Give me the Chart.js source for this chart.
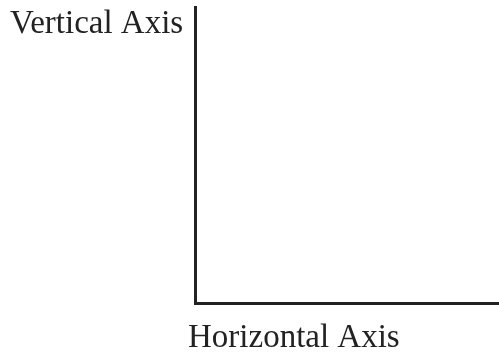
<!DOCTYPE html>
<html>
<head>
<meta charset="utf-8">
<script src="https://cdn.jsdelivr.net/npm/chart.js@4"></script>
<style>
html,body{margin:0;padding:0;background:#fff;}
#wrap{width:499px;height:358px;position:relative;}
</style>
</head>
<body>
<div id="wrap"><canvas id="c"></canvas></div>
<script>
const xAxisTitle = ["Horizontal Axis"];
const yAxisTitle = ["Vertical Axis"];
const xValues = [];
const yValues = [];

const labelPlugin = {
  id: 'axisLabels',
  afterDraw(chart) {
    const ctx = chart.ctx;
    ctx.save();
    ctx.fillStyle = '#222';
    ctx.font = '33px "Liberation Serif"';
    ctx.textBaseline = 'alphabetic';
    ctx.textAlign = 'left';
    ctx.fillText(yAxisTitle[0], 10, 33);
    ctx.fillText(xAxisTitle[0], 188, 347);
    ctx.restore();
  }
};

new Chart(document.getElementById('c'), {
  type: 'scatter',
  data: { datasets: [{ data: xValues.map((x, i) => ({x, y: yValues[i]})) }] },
  options: {
    responsive: true,
    maintainAspectRatio: false,
    animation: false,
    layout: { padding: { left: 195, top: 7, right: 0, bottom: 55 } },
    plugins: { legend: { display: false }, tooltip: { enabled: false } },
    scales: {
      x: { min: 0, max: 1, ticks: { display: false }, grid: { display: false, drawTicks: false },
           border: { display: true, color: '#222', width: 3 } },
      y: { min: 0, max: 1, ticks: { display: false }, grid: { display: false, drawTicks: false },
           border: { display: true, color: '#222', width: 3 } }
    }
  },
  plugins: [labelPlugin]
});
</script>
</body>
</html>
